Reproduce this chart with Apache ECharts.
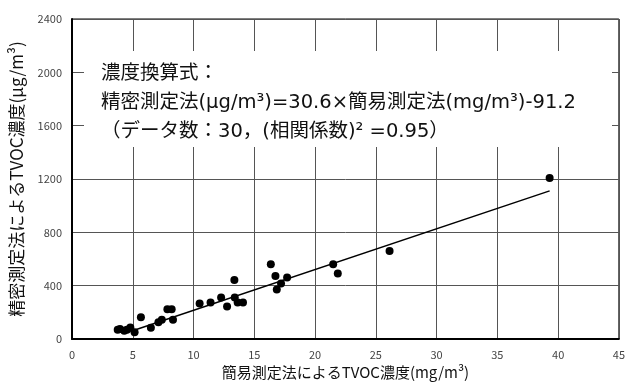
<!DOCTYPE html>
<html><head><meta charset="utf-8">
<script src="https://cdn.jsdelivr.net/npm/echarts@6/dist/echarts.min.js"></script>
<style>html,body{margin:0;padding:0;background:#fff}#c{width:628px;height:385px}</style>
</head><body><div id="c"></div>
<script>
// Simple-method TVOC (mg/m3)
const xValues = [3.76, 3.95, 4.3, 4.52, 4.8, 5.15, 5.67, 6.49, 7.11, 7.39, 7.85, 8.2, 8.31, 10.5, 11.4, 12.27, 12.76, 13.36, 13.39, 13.63, 14.07, 16.36, 16.74, 16.85, 17.2, 17.7, 21.49, 21.87, 26.13, 39.3];
// Precise-method TVOC (ug/m3)
const yValues = [69, 75, 62, 69, 87, 50, 164, 85, 125, 144, 224, 224, 144, 267, 274, 311, 244, 443, 311, 274, 274, 560, 473, 371, 416, 461, 560, 491, 660, 1208];
// Regression line end points
const fitX = [4.8, 39.3];
const fitY = [56, 1111];
const xTicks = [0, 5, 10, 15, 20, 25, 30, 35, 40, 45];
const yTicks = [0, 400, 800, 1200, 1600, 2000, 2400];
const xName = '簡易測定法によるTVOC濃度(mg/m³)';
const yName = '精密測定法によるTVOC濃度(μg/m³)';
const noteLines = ['濃度換算式：', '精密測定法(μg/m³)=30.6×簡易測定法(mg/m³)-91.2', '（データ数：30，(相関係数)² =0.95）'];

const chart = echarts.init(document.getElementById('c'), null, {renderer: 'canvas'});
const pts = xValues.map((x, i) => [x, yValues[i]]);
const fit = fitX.map((x, i) => [x, fitY[i]]);
const F = '"Noto Sans CJK JP", "Noto Sans", sans-serif';
const FN = '"DejaVu Sans", "Noto Sans CJK JP", sans-serif';
chart.setOption({
  animation: false,
  backgroundColor: '#fff',
  grid: {left: 72, right: 6, top: 19, bottom: 45, show: true, borderColor: '#000', borderWidth: 1},
  xAxis: {
    type: 'value', min: xTicks[0], max: xTicks[xTicks.length - 1], interval: 5,
    name: xName, nameLocation: 'middle', nameGap: 26,
    nameTextStyle: {fontFamily: F, fontSize: 15, color: '#111'},
    axisLine: {show: true, onZero: false, lineStyle: {color: '#000', width: 2}},
    axisTick: {show: false},
    axisLabel: {fontFamily: F, fontSize: 11, color: '#444', margin: 10},
    splitLine: {show: true, lineStyle: {color: '#555', width: 1}}
  },
  yAxis: {
    type: 'value', min: yTicks[0], max: yTicks[yTicks.length - 1], interval: 400,
    name: yName, nameLocation: 'middle', nameGap: 47,
    nameTextStyle: {fontFamily: F, fontSize: 17, color: '#111'},
    axisLine: {show: true, onZero: false, lineStyle: {color: '#000', width: 2}},
    axisTick: {show: false},
    axisLabel: {fontFamily: F, fontSize: 11, color: '#444', margin: 10, formatter: v => String(v)},
    splitLine: {show: true, lineStyle: {color: '#555', width: 1}}
  },
  series: [
    {type: 'scatter', data: pts, symbol: 'circle', symbolSize: 8, itemStyle: {color: '#000', opacity: 1}, z: 3},
    {type: 'line', data: fit, symbol: 'none', lineStyle: {color: '#000', width: 1.5}, z: 2}
  ],
  graphic: [
    {type: 'rect', left: 84, top: 51, shape: {width: 528, height: 96}, style: {fill: '#fff'}, z: 10},
    {type: 'text', left: 101, top: 64, style: {text: noteLines[0], font: '19.5px ' + FN, fill: '#111'}, z: 11},
    {type: 'text', left: 101, top: 93, style: {text: noteLines[1], font: '19.5px ' + FN, fill: '#111'}, z: 11},
    {type: 'text', left: 101, top: 122, style: {text: noteLines[2], font: '19.5px ' + FN, fill: '#111'}, z: 11}
  ]
});
</script></body></html>
